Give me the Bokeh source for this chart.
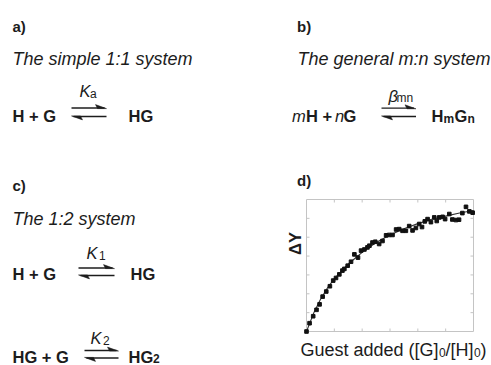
from bokeh.plotting import figure
from bokeh.models import Range1d
from bokeh.embed import file_html
from bokeh.resources import INLINE
from bokeh.core.properties import value

FONT = "Liberation Sans"
INK = "#1c1c1c"
FRAME = "#c4c4c4"

# ---- panel d data ----
guest_x = [0.00, 0.11, 0.24, 0.36, 0.47, 0.58, 0.71, 0.84, 0.96, 1.06, 1.18, 1.29, 1.36,
           1.48, 1.60, 1.72, 1.85, 1.96, 2.08, 2.19, 2.26, 2.37, 2.47, 2.61, 2.73, 2.86,
           2.97, 3.09, 3.22, 3.33, 3.45, 3.57, 3.69, 3.81, 3.93, 4.05, 4.15, 4.25, 4.35,
           4.47, 4.59, 4.68, 4.77, 4.89, 4.98, 5.13, 5.24, 5.37, 5.48, 5.60, 5.73, 5.85, 5.97]
delta_y = [0.00, 0.44, 0.81, 1.15, 1.44, 1.85, 2.12, 2.40, 2.70, 2.84, 3.03, 3.23, 3.32,
           3.49, 3.70, 4.09, 3.92, 4.29, 4.35, 4.46, 4.55, 4.72, 4.76, 4.64, 4.80, 5.10,
           5.12, 5.12, 5.41, 5.43, 5.34, 5.34, 5.59, 5.36, 5.49, 5.70, 5.54, 5.84, 5.96,
           5.80, 6.05, 5.86, 6.05, 6.08, 5.96, 6.23, 5.94, 5.91, 5.93, 6.28, 6.61, 6.37, 6.30]
fit_x = [0.0, 0.25, 0.5, 0.75, 1.0, 1.5, 2.0, 2.5, 3.0, 3.5, 4.0, 4.5, 5.0, 5.5, 6.0]
fit_y = [0.0, 0.95, 1.70, 2.30, 2.80, 3.58, 4.20, 4.72, 5.12, 5.45, 5.72, 5.95, 6.12, 6.28, 6.42]
x_ticks = [1, 2, 3, 4, 5]
y_ticks = [1, 2, 3, 4, 5, 6]
x_lim = (0, 6)
y_lim = (0, 7)
y_label = "\u0394Y"

W, H = 491, 365
# panel d frame in page pixels
FL, FR, FT, FB = 306, 473, 199, 331
DY = -5  # text baseline correction

p = figure(width=W, height=H, x_range=Range1d(0, W), y_range=Range1d(H, 0),
           output_backend="svg", toolbar_location=None, min_border=0)
p.axis.visible = False
p.grid.visible = False
p.outline_line_color = None

# extra scales for panel d so that x_lim/y_lim fill the frame
sx = (FR - FL) / (x_lim[1] - x_lim[0])
sy = (FB - FT) / (y_lim[1] - y_lim[0])
p.extra_x_ranges = {"d": Range1d(x_lim[0] - FL / sx, x_lim[1] + (W - FR) / sx)}
p.extra_y_ranges = {"d": Range1d(y_lim[0] - (H - FB) / sy, y_lim[1] + FT / sy)}


def put(x, y, s, size=16.5, style="bold", angle=0.0, align="left"):
    p.text(x=[x], y=[y + DY], text=[s], text_font=value(FONT), text_font_size=f"{size}px",
           text_font_style=style, text_color=INK, text_baseline="alphabetic", text_align=align,
           angle=angle)


def equil(x0, x1, yt, yb):
    p.segment(x0=[x0, x0 + 2], y0=[yt, yb], x1=[x1 - 2, x1], y1=[yt, yb], line_color=INK, line_width=1.3)
    p.patch(x=[x1, x1 - 11, x1 - 9], y=[yt + 0.6, yt - 3.4, yt + 0.6], fill_color=INK, line_color=INK, line_width=0.5)
    p.patch(x=[x0, x0 + 11, x0 + 9], y=[yb - 0.6, yb + 3.4, yb - 0.6], fill_color=INK, line_color=INK, line_width=0.5)


# ---- a) ----
put(12, 31, "a)", 15)
put(12, 63, "The simple 1:1 system", 18, "italic")
put(79, 95, "K", 16.5, "italic")
put(89.5, 98, "a", 12, "normal")
put(12, 120, "H + G", 16.5)
equil(71, 106, 107.5, 116)
put(128, 120, "HG", 16.5)

# ---- c) ----
put(12, 190, "c)", 15)
put(12, 223, "The 1:2 system", 18, "italic")
put(86, 257, "K", 16.5, "italic")
put(98.5, 260, "1", 12, "normal")
put(12, 278.5, "H + G", 16.5)
equil(78, 114, 267.5, 275)
put(130, 278.5, "HG", 16.5)
put(90, 342, "K", 16.5, "italic")
put(102.5, 345, "2", 12, "normal")
put(12, 361.5, "HG + G", 16.5)
equil(84, 118, 350, 357.5)
put(128, 361.5, "HG", 16.5)
put(152.5, 363, "2", 12)

# ---- b) ----
put(296.5, 31, "b)", 15)
put(297, 63, "The general m:n system", 18, "italic")
put(388, 100, "\u03b2", 16.5, "italic")
put(396, 102, "mn", 12, "normal")
put(291.5, 120.5, "m", 16.5, "italic")
put(305.5, 120.5, "H +", 16.5)
put(334.5, 120.5, "n", 16.5, "italic")
put(343, 120.5, "G", 16.5)
equil(381, 415.5, 107.7, 116)
put(431, 120.5, "H", 16.5)
put(443, 123, "m", 12)
put(454, 120.5, "G", 16.5)
put(467, 123, "n", 12)

# ---- d) ----
put(296.5, 185, "d)", 15)
put(289.5 - DY, 248, y_label, 16.5, "bold", angle=1.5708, align="center")
put(300, 354, "Guest added ([G]", 18, "normal")
put(438.5, 357, "0", 12, "normal")
put(445, 354, "/[H]", 18, "normal")
put(473.5, 357, "0", 12, "normal")
put(480, 354, ")", 18, "normal")

d = dict(x_range_name="d", y_range_name="d")
p.quad(left=[x_lim[0]], right=[x_lim[1]], bottom=[y_lim[0]], top=[y_lim[1]],
       fill_color=None, line_color=FRAME, line_width=1, **d)
tx = 3.0 / sx
ty = 3.0 / sy
p.segment(x0=x_ticks, y0=[y_lim[0]] * len(x_ticks), x1=x_ticks, y1=[y_lim[0] + ty] * len(x_ticks),
          line_color=FRAME, line_width=1, **d)
p.segment(x0=x_ticks, y0=[y_lim[1]] * len(x_ticks), x1=x_ticks, y1=[y_lim[1] - ty] * len(x_ticks),
          line_color=FRAME, line_width=1, **d)
p.segment(x0=[x_lim[0]] * len(y_ticks), y0=y_ticks, x1=[x_lim[0] + tx] * len(y_ticks), y1=y_ticks,
          line_color=FRAME, line_width=1, **d)
p.segment(x0=[x_lim[1]] * len(y_ticks), y0=y_ticks, x1=[x_lim[1] - tx] * len(y_ticks), y1=y_ticks,
          line_color=FRAME, line_width=1, **d)
p.line(fit_x, fit_y, line_color="#333333", line_width=1.1, **d)
p.scatter(guest_x, delta_y, marker="square", size=3.6, fill_color="#111111", line_color="#111111", **d)

open("out.html", "w").write(file_html(p, INLINE))
